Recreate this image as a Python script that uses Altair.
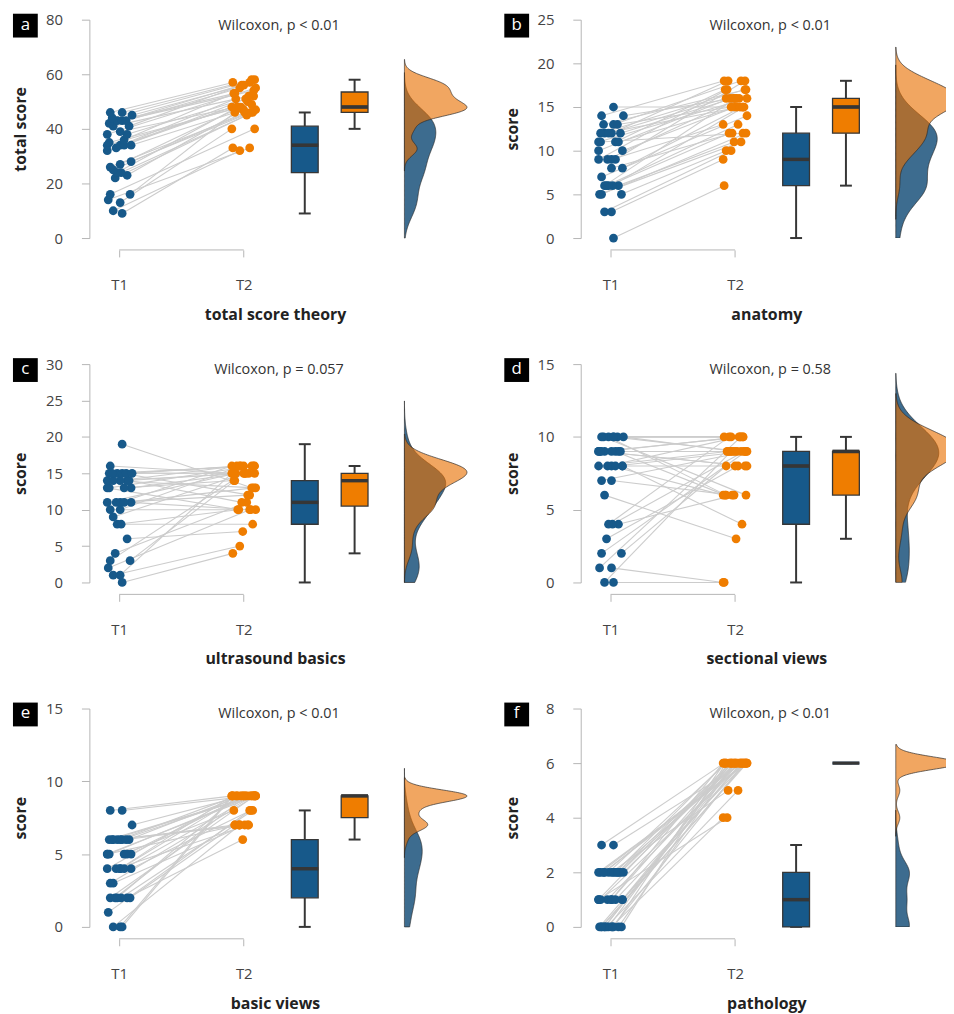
import altair as alt
import numpy as np
import pandas as pd

# ---------------- data ----------------
# participant-aligned scores (T1[i] and T2[i] belong to the same participant)
A_T1 = [9, 10, 13, 14, 16, 16, 22, 23, 24, 24, 25, 26, 27, 28, 32, 33, 34, 34, 34, 34, 35, 36, 38, 38, 39, 41, 41, 42, 43, 43, 43, 44, 45, 46, 46]
A_T2 = [33, 32, 40, 33, 40, 46, 45, 47, 46, 48, 46, 47, 48, 46, 51, 50, 48, 52, 47, 48, 49, 53, 51, 55, 48, 52, 56, 54, 53, 57, 55, 58, 56, 57, 58]

B_T1 = [0, 3, 3, 5, 5, 5, 6, 6, 6, 6, 6, 7, 8, 8, 9, 9, 9, 9, 10, 10, 11, 11, 11, 11, 12, 12, 12, 12, 12, 13, 13, 13, 14, 14, 15]
B_T2 = [6, 10, 9, 11, 12, 10, 13, 11, 15, 12, 16, 14, 12, 15, 17, 16, 13, 18, 15, 16, 12, 17, 15, 16, 18, 15, 16, 17, 16, 18, 15, 17, 16, 18, 15]

C_T1 = [0, 1, 1, 2, 3, 3, 4, 6, 8, 8, 9, 10, 10, 11, 11, 11, 11, 11, 13, 13, 13, 13, 14, 14, 14, 14, 14, 15, 15, 15, 15, 15, 15, 16, 19]
C_T2 = [4, 5, 15, 10, 16, 14, 11, 7, 8, 10, 15, 10, 16, 10, 15, 12, 16, 13, 15, 10, 16, 14, 15, 13, 16, 15, 11, 16, 15, 12, 16, 15, 16, 15, 13]

D_T1 = [0, 0, 1, 1, 2, 2, 3, 4, 4, 4, 6, 7, 7, 8, 8, 8, 8, 8, 8, 9, 9, 9, 9, 9, 9, 9, 9, 9, 10, 10, 10, 10, 10, 10, 10]
D_T2 = [0, 9, 0, 10, 9, 8, 8, 6, 9, 10, 3, 9, 6, 4, 9, 10, 6, 9, 8, 9, 10, 6, 9, 8, 9, 10, 9, 8, 6, 9, 10, 6, 9, 10, 10]

E_T1 = [0, 0, 0, 1, 2, 2, 2, 2, 2, 2, 3, 3, 4, 4, 4, 4, 4, 4, 5, 5, 5, 5, 5, 5, 6, 6, 6, 6, 6, 6, 6, 6, 7, 8, 8]
E_T2 = [9, 7, 9, 8, 9, 7, 9, 6, 8, 9, 7, 9, 9, 8, 9, 7, 9, 9, 9, 7, 9, 8, 9, 9, 9, 7, 9, 9, 7, 9, 7, 9, 9, 9, 9]

F_T1 = [0, 0, 0, 0, 0, 0, 0, 0, 0, 0, 0, 0, 1, 1, 1, 1, 1, 1, 1, 1, 1, 2, 2, 2, 2, 2, 2, 2, 2, 2, 2, 2, 2, 3, 3]
F_T2 = [6, 6, 4, 6, 6, 6, 5, 6, 6, 6, 6, 6, 6, 6, 4, 6, 6, 6, 6, 6, 6, 6, 6, 6, 5, 6, 6, 6, 6, 6, 6, 6, 6, 6, 6]

# horizontal jitter of the dots as seen in the figure (pixels)
JIT_T1 = [3, -6, 1, -11, -9, 11, -4, 8, 2, -2, -6, -9, 1, 12, -12, -3, 1, 5, 12, -12, -10, 5, 8, -12, 1, -6, 10, -10, -2, 3, 7, -7, 13, -9, 3]
JIT_T2 = [-11, -4, -12, 6, 11, -9, 3, -1, 9, -6, 1, 12, -3, 7, -8, 4, -12, 10, 0, -5, 8, -10, 2, 12, -7, 5, -2, 10, -9, 6, -4, 11, 0, -11, 8]

LETTERS = ["a", "b", "c", "d", "e", "f"]
TITLES = ["total score theory", "anatomy", "ultrasound basics", "sectional views", "basic views", "pathology"]
YTITLES = ["total score", "score", "score", "score", "score", "score"]
YMAX = [80, 25, 30, 15, 15, 8]
YSTEP = [20, 5, 5, 5, 5, 2]
PTEXT = ["Wilcoxon, p < 0.01", "Wilcoxon, p < 0.01", "Wilcoxon, p = 0.057",
         "Wilcoxon, p = 0.58", "Wilcoxon, p < 0.01", "Wilcoxon, p < 0.01"]
DATA = [(A_T1, A_T2), (B_T1, B_T2), (C_T1, C_T2), (D_T1, D_T2), (E_T1, E_T2), (F_T1, F_T2)]
TIMES = ["T1", "T2"]
TIME_POS = [1, 2]

# ---------------- styling / layout ----------------
BLUE = "#17598a"
ORANGE = "#ef7d00"
BLUE_D = "#2c5f86"
ORANGE_D = "#e87000"
AXC = "#b5b5b5"
DARK = "#363636"
FONT = "Open Sans"
PXU = 125.5          # pixels per x unit
X0 = 0.761           # left end of x scale
BOX_POS = [2.49, 2.89]
DENS_BASE = 3.29
DENS_MAXPX = 63
H = 220
W_LEFT = 382
W_RIGHT = 368


def nrd0(x):
    x = np.asarray(x, float)
    hi = x.std(ddof=1)
    q75, q25 = np.percentile(x, [75, 25])
    lo = min(hi, (q75 - q25) / 1.34)
    if lo <= 0:
        lo = hi
    return 0.9 * lo * len(x) ** -0.2


def kde_max(x, bw, lo, hi):
    g = np.linspace(lo, hi, 400)
    x = np.asarray(x, float)
    d = np.exp(-0.5 * ((g[:, None] - x[None, :]) / bw) ** 2).sum(1) / (len(x) * bw * np.sqrt(2 * np.pi))
    return d.max()


def make_panel(i, width, clip):
    t1, t2 = DATA[i]
    ymax = YMAX[i]
    rows = []
    for j in range(len(t1)):
        rows.append(dict(id=j, time=TIMES[0], value=t1[j], xpos=TIME_POS[0] + JIT_T1[j] / PXU))
        rows.append(dict(id=j, time=TIMES[1], value=t2[j], xpos=TIME_POS[1] + JIT_T2[j] / PXU))
    df = pd.DataFrame(rows)

    xs = alt.Scale(domain=[X0, X0 + width / PXU], nice=False, zero=False, padding=0)
    ys = alt.Scale(domain=[0, ymax], nice=False, padding=0)
    xaxis = alt.Axis(values=TIME_POS, labelExpr="datum.value == 1 ? 'T1' : 'T2'",
                     domain=False, tickSize=7, tickColor=AXC, tickWidth=1, offset=12,
                     labelPadding=21, labelFontSize=15, labelColor="#444", labelFont=FONT,
                     labelFlush=False, grid=False, title=TITLES[i], titleFont=FONT,
                     titleFontSize=16, titleFontWeight="bold", titleColor="#222",
                     titleX=187, titleAlign="center", titlePadding=14)
    yaxis = alt.Axis(values=list(range(0, ymax + 1, YSTEP[i])), domainColor=AXC, tickColor=AXC,
                     tickSize=8, labelPadding=19, labelFontSize=15, labelColor="#444",
                     labelFont=FONT, labelFlush=False, grid=False, title=YTITLES[i],
                     titleFont=FONT, titleFontSize=16, titleFontWeight="bold", titleColor="#222",
                     titleX=-69, titleY=H / 2, titleAlign="center", titleBaseline="middle",
                     titleAngle=-90)

    def X(f):
        return alt.X(f, scale=xs, axis=xaxis)

    def Y(f):
        return alt.Y(f, scale=ys, axis=yaxis)

    base = alt.Chart(df)
    lines = base.mark_line(color="#cccccc", strokeWidth=1.1).encode(
        x=X("xpos:Q"), y=Y("value:Q"), detail="id:N")
    pts = base.mark_circle(size=78, opacity=1).encode(
        x=X("xpos:Q"), y=Y("value:Q"),
        color=alt.Color("time:N", scale=alt.Scale(domain=TIMES, range=[BLUE, ORANGE]), legend=None))

    layers = [lines, pts]
    cols = [BLUE, ORANGE]
    for k_, tm in enumerate(TIMES):
        sub = base.transform_filter(alt.datum.time == tm)
        bx = sub.transform_calculate(bx=str(BOX_POS[k_])).mark_boxplot(
            orient="vertical", size=27, extent=1.5, outliers=False, color=cols[k_],
            box={"stroke": DARK, "strokeWidth": 1.3},
            median={"color": DARK, "thickness": 3.2},
            rule={"color": DARK, "strokeWidth": 2},
            ticks={"color": DARK, "size": 12, "thickness": 2},
        ).encode(x=X("bx:Q"), y=Y("value:Q"))
        med = sub.transform_aggregate(med="median(value)").transform_calculate(
            bx=str(BOX_POS[k_])).mark_tick(
            color=DARK, thickness=3.4, size=27, orient="horizontal", opacity=1).encode(
            x=X("bx:Q"), y=Y("med:Q"))
        layers += [bx, med]

    # densities
    bws = [nrd0(t1), nrd0(t2)]
    exts = []
    mx = []
    for vals, bw in zip((t1, t2), bws):
        lo = max(0.0, min(vals) - 3 * bw)
        hi = min(float(ymax), max(vals) + 3 * bw)
        exts.append([lo, hi])
        mx.append(kde_max(vals, bw, lo, hi))
    kscale = (DENS_MAXPX / PXU) / max(mx)
    fills = [(BLUE_D, 0.92), (ORANGE_D, 0.62)]
    for k_, tm in enumerate(TIMES):
        dens = base.transform_filter(alt.datum.time == tm).transform_density(
            "value", as_=["value", "density"], bandwidth=float(bws[k_]),
            extent=exts[k_], steps=200).transform_calculate(
            x0=str(DENS_BASE), x1=f"{DENS_BASE} + datum.density * {kscale}").mark_area(
            orient="horizontal", color=fills[k_][0], fillOpacity=fills[k_][1],
            stroke="#2a2a2a", strokeWidth=0.8, strokeOpacity=0.85, clip=clip).encode(
            y=Y("value:Q"), x=X("x0:Q"), x2="x1:Q")
        layers.append(dens)

    # x-axis bracket line between T1 and T2
    br = alt.Chart(pd.DataFrame({"a": [TIME_POS[0]], "b": [TIME_POS[1]]})).mark_rule(
        color=AXC, strokeWidth=1).encode(x=X("a:Q"), x2="b:Q", y=alt.value(H + 12))
    layers.append(br)

    lab = pd.DataFrame({"t": [PTEXT[i]], "l": [LETTERS[i]]})
    ptxt = alt.Chart(lab).mark_text(font=FONT, fontSize=14.5, color="#333", align="center",
                                    baseline="middle").encode(
        text="t:N", x=alt.value(191), y=alt.value(6))
    box = alt.Chart(lab).mark_rect(color="black").encode(
        x=alt.value(-77), x2=alt.value(-52), y=alt.value(-6), y2=alt.value(18))
    letter = alt.Chart(lab).mark_text(font=FONT, fontSize=17, color="white", align="center",
                                      baseline="middle").encode(
        text="l:N", x=alt.value(-64.5), y=alt.value(5))
    layers += [ptxt, box, letter]
    return alt.layer(*layers).properties(width=width, height=H)


rows = []
for r in range(3):
    left = make_panel(2 * r, W_LEFT, False)
    right = make_panel(2 * r + 1, W_RIGHT, True)
    rows.append(alt.hconcat(left, right, spacing=36))

chart = alt.vconcat(*rows, spacing=35).properties(
    padding={"left": 5, "top": 1, "right": 0, "bottom": 0}
).configure(font=FONT, background="white").configure_view(strokeWidth=0, stroke="transparent")

chart.save("out.html", embed_options={"renderer": "svg", "actions": False})
